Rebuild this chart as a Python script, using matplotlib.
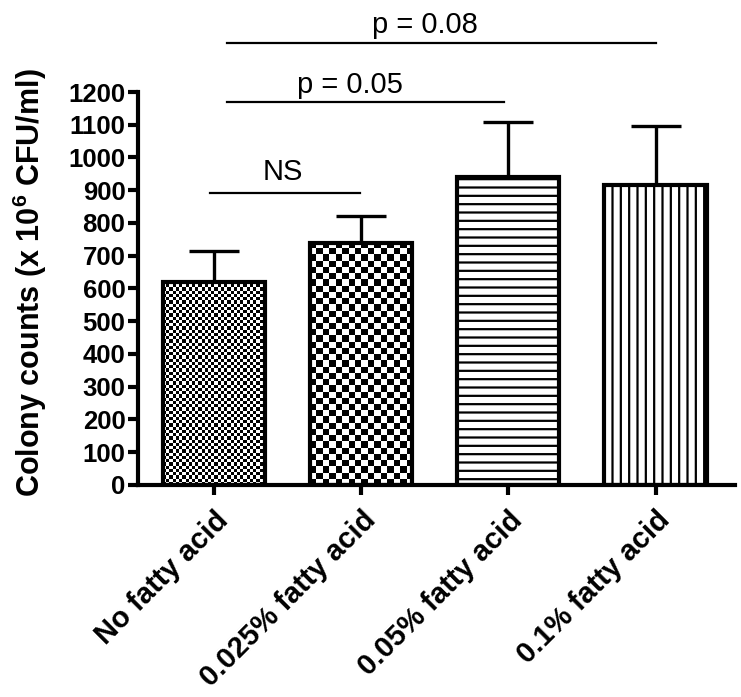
import matplotlib
matplotlib.use("Agg")
import matplotlib.pyplot as plt
import numpy as np

plt.rcParams['font.family'] = ['Liberation Sans', 'DejaVu Sans']
plt.rcParams['mathtext.fontset'] = 'custom'
plt.rcParams['mathtext.rm'] = 'Liberation Sans'
plt.rcParams['mathtext.bf'] = 'Liberation Sans:bold'
plt.rcParams['mathtext.default'] = 'bf'
plt.rcParams['hatch.linewidth'] = 1.6

groups = ['No fatty acid', '0.025% fatty acid', '0.05% fatty acid', '0.1% fatty acid']
means = [620, 740, 941, 916]
errs = [94, 82, 168, 181]
yticks = list(range(0, 1201, 100))

# significance brackets: (line start, line end, line y, label, label x, label y)
brackets = [
    (-0.03, 0.99, 892, 'NS', 0.47, 931),
    (0.09, 1.97, 1170, 'p = 0.05', 0.92, 1198),
    (0.09, 3.0, 1350, 'p = 0.08', 1.43, 1380),
]

fig = plt.figure(figsize=(7.41, 6.97), dpi=100)
ax = fig.add_axes([0.1862, 0.3042, 0.8057, 0.5638])

x = np.arange(len(groups))
w = 0.694

ax.set_xlim(-0.517, 3.54)
ax.set_ylim(0, 1200)

# error bars (upper only)
ax.vlines(x, means, np.array(means) + np.array(errs), color='black', lw=2.4, zorder=1)
ax.hlines(np.array(means) + np.array(errs), x - 0.17, x + 0.17, color='black', lw=2.4, zorder=1)

hatches = [None, None, '--', '||']
bars = ax.bar(x, means, width=w, color='white', edgecolor='black', linewidth=0, zorder=2)
for b, h in zip(bars, hatches):
    if h:
        b.set_hatch(h)
        b.set_linewidth(0.1)

# checkerboard fills for first two bars
fig.canvas.draw()
px_per_x = ax.transData.transform((1, 0))[0] - ax.transData.transform((0, 0))[0]
px_per_y = ax.transData.transform((0, 1))[1] - ax.transData.transform((0, 0))[1]
for i, cell in [(0, 3.2), (1, 6.2)]:
    nx = int(round(w * px_per_x / cell))
    ny = int(round(means[i] * px_per_y / cell))
    yy, xx = np.indices((ny, nx))
    pat = (xx + yy) % 2
    im = ax.imshow(pat, cmap='gray', extent=[x[i] - w / 2, x[i] + w / 2, 0, means[i]],
                   aspect='auto', interpolation='nearest', zorder=2.5)
    im.set_clip_path(bars[i])

ax.bar(x, means, width=w, fill=False, edgecolor='black', linewidth=3.0, zorder=3)

for spine in ['top', 'right']:
    ax.spines[spine].set_visible(False)
for spine in ['left', 'bottom']:
    ax.spines[spine].set_linewidth(3.0)

ax.set_yticks(yticks)
ax.set_yticklabels([str(t) for t in yticks], fontsize=18.5, fontweight='bold')
ax.set_xticks(x)
ax.set_xticklabels(groups, fontsize=21, fontweight='bold', rotation=45,
                   ha='right', va='top', rotation_mode='anchor')
ax.tick_params(axis='both', length=7, width=3, direction='out', pad=2)
ax.tick_params(axis='x', pad=8)

for x0, x1, yl, lab, tx, ty in brackets:
    ax.plot([x0, x1], [yl, yl], color='black', lw=1.6, clip_on=False)
    ax.text(tx, ty, lab, fontsize=21, ha='center', va='baseline', clip_on=False)

fig.text(0.04, 0.594, 'Colony counts (x 10$^{6}$ CFU/ml)', rotation=90,
         fontsize=22, fontweight='bold', ha='center', va='center')

fig.savefig('out.png', dpi=100)
